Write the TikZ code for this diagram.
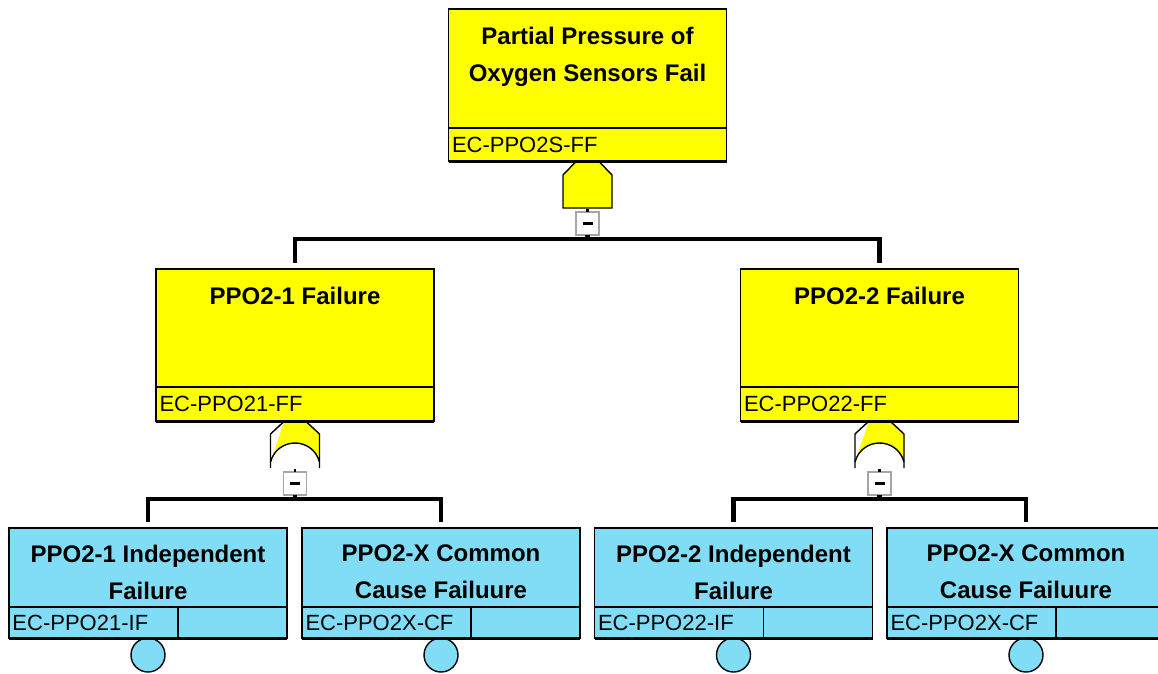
\documentclass[tikz,border=0pt]{standalone}
\usepackage{fontspec}
\setmainfont{Liberation Sans}
\usetikzlibrary{positioning}
\definecolor{evyellow}{RGB}{255,255,0}
\definecolor{evblue}{RGB}{128,221,245}

\begin{document}
\begin{tikzpicture}
    [x=1pt, y=-1pt,
    box/.style={draw, line width=1.4pt, inner sep=0pt, outer sep=0pt, minimum width=278pt},
    gatebox/.style={box, fill=evyellow},
    basicbox/.style={box, fill=evblue},
    evtitle/.style={inner sep=0pt, align=center, font=\fontsize{24}{37}\selectfont\bfseries},
    codebox/.style={inner xsep=3.5pt, inner ysep=0pt, text width=271pt, align=left, font=\fontsize{22}{26}\selectfont},
    event/.style={circle, draw, line width=1.4pt, fill=evblue, minimum size=34pt, inner sep=0pt, outer sep=0pt},
    minus/.style={draw=gray!70, fill=white, line width=1.2pt, minimum size=23pt, inner sep=0pt, outer sep=0pt,
        path picture={\draw[black, line width=2.2pt] ([xshift=-5pt]path picture bounding box.center) -- ([xshift=5pt]path picture bounding box.center);}},
    bar/.style={line width=4.5pt, shorten >=6pt},
    stub/.style={line width=2.5pt},
    heavy/.style={line width=3pt},
    andgate/.pic={
        \draw[fill=evyellow, line width=1.4pt] (-11,0) -- (11,0) -- (24.5,14) -- (24.5,47) -- (-24.5,47) -- (-24.5,14) -- cycle;
    },
    orgate/.pic={
        \fill[evyellow] (-10.5,0) -- (10.5,0) -- (24.5,13) -- (24.5,41) .. controls (21,28) and (10,22) .. (0,22) .. controls (-10,22) and (-21,28) .. (-24.5,41) -- cycle;
        \draw[line width=1.4pt] (-24.5,47) -- (-24.5,13) -- (-10.5,0) -- (10.5,0) -- (24.5,13) -- (24.5,47);
        \draw[line width=1.4pt] (-24.5,41) .. controls (-21,28) and (-10,22) .. (0,22) .. controls (10,22) and (21,28) .. (24.5,41);
    }]
        \useasboundingbox (0,0) rectangle (1158,673);

        %% Top event
        \node[gatebox, minimum height=119pt] (PPO2S) at (587.5,68.5) {};
        \node[evtitle, below=18pt of PPO2S.north] (PPO2S-t) {Partial Pressure of\\Oxygen Sensors Fail};
        \node[gatebox, codebox, minimum height=33pt, below=0pt of PPO2S] (PPO2S-c) {EC-PPO2S-FF};
        \pic at (PPO2S-c.south) {andgate};
        \node[minus, below=51pt of PPO2S-c.south] (PPO2S-m) {};

        %% Sensor 1
        \node[gatebox, minimum height=118pt] (PPO21) at (295,328) {};
        \node[evtitle, below=18pt of PPO21.north] (PPO21-t) {PPO2-1 Failure};
        \node[gatebox, codebox, minimum height=34pt, below=0pt of PPO21] (PPO21-c) {EC-PPO21-FF};
        \pic at (PPO21-c.south) {orgate};
        \node[minus, below=51pt of PPO21-c.south] (PPO21-m) {};

        %% Sensor 2
        \node[gatebox, minimum height=118pt] (PPO22) at (879.5,328) {};
        \node[evtitle, below=18pt of PPO22.north] (PPO22-t) {PPO2-2 Failure};
        \node[gatebox, codebox, minimum height=34pt, below=0pt of PPO22] (PPO22-c) {EC-PPO22-FF};
        \pic at (PPO22-c.south) {orgate};
        \node[minus, below=51pt of PPO22-c.south] (PPO22-m) {};

        %% Basic events
        \node[basicbox, minimum height=79pt] (PPO21I) at (148,567.5) {};
        \node[evtitle, below=17pt of PPO21I.north] {PPO2-1 Independent\\Failure};
        \node[basicbox, codebox, text width=162pt, minimum width=169pt, minimum height=31pt, below right=0pt of PPO21I.south west] (PPO21I-c) {EC-PPO21-IF};
        \node[basicbox, minimum width=109pt, minimum height=31pt, right=0pt of PPO21I-c] (PPO21I-x) {};
        \node[event, below=31pt of PPO21I.south] (PPO21I-e) {};

        \node[basicbox, minimum height=79pt] (PPO2XA) at (441,567.5) {};
        \node[evtitle, below=17pt of PPO2XA.north] {PPO2-X Common\\Cause Failuure};
        \node[basicbox, codebox, text width=162pt, minimum width=169pt, minimum height=31pt, below right=0pt of PPO2XA.south west] (PPO2XA-c) {EC-PPO2X-CF};
        \node[basicbox, minimum width=109pt, minimum height=31pt, right=0pt of PPO2XA-c] (PPO2XA-x) {};
        \node[event, below=31pt of PPO2XA.south] (PPO2XA-e) {};

        \node[basicbox, minimum height=79pt] (PPO22I) at (733.5,567.5) {};
        \node[evtitle, below=17pt of PPO22I.north] {PPO2-2 Independent\\Failure};
        \node[basicbox, codebox, text width=162pt, minimum width=169pt, minimum height=31pt, below right=0pt of PPO22I.south west] (PPO22I-c) {EC-PPO22-IF};
        \node[basicbox, minimum width=109pt, minimum height=31pt, right=0pt of PPO22I-c] (PPO22I-x) {};
        \node[event, below=31pt of PPO22I.south] (PPO22I-e) {};

        \node[basicbox, minimum height=79pt] (PPO2XB) at (1026,567.5) {};
        \node[evtitle, below=17pt of PPO2XB.north] {PPO2-X Common\\Cause Failuure};
        \node[basicbox, codebox, text width=162pt, minimum width=169pt, minimum height=31pt, below right=0pt of PPO2XB.south west] (PPO2XB-c) {EC-PPO2X-CF};
        \node[basicbox, minimum width=109pt, minimum height=31pt, right=0pt of PPO2XB-c] (PPO2XB-x) {};
        \node[event, below=31pt of PPO2XB.south] (PPO2XB-e) {};

        %% heavy bottom edges
        \foreach \n in {PPO2S-c, PPO21-c, PPO22-c, PPO21I-c, PPO2XA-c, PPO22I-c, PPO2XB-c}
            \draw[heavy] (\n.south west) -- (\n.south east);
        \foreach \n in {PPO21I-x, PPO2XA-x, PPO22I-x, PPO2XB-x}
            \draw[heavy] (\n.south west) -- (\n.south east);

        %% connectors
        \foreach \m in {PPO2S-m, PPO21-m, PPO22-m}
            \draw[stub] (\m.north) -- ++(0,-3);
        \draw[bar] (PPO2S-m.south) -- ++(0,4) -| (PPO21.north);
        \draw[bar] (PPO2S-m.south) -- ++(0,4) -| (PPO22.north);
        \draw[bar] (PPO21-m.south) -- ++(0,4) -| (PPO21I.north);
        \draw[bar] (PPO21-m.south) -- ++(0,4) -| (PPO2XA.north);
        \draw[bar] (PPO22-m.south) -- ++(0,4) -| (PPO22I.north);
        \draw[bar] (PPO22-m.south) -- ++(0,4) -| (PPO2XB.north);
    \end{tikzpicture}
\end{document}
